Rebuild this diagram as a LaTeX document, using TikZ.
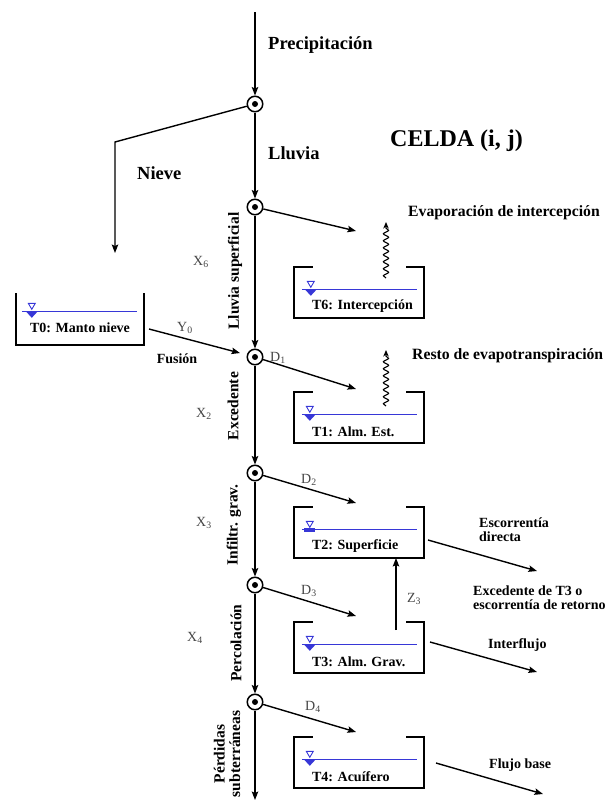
\documentclass[tikz,border=0pt]{standalone}
\usepackage{fontspec}
\setmainfont{Liberation Serif}
\usetikzlibrary{arrows.meta, decorations.pathmorphing}
\definecolor{wblue}{RGB}{55,55,215}
\definecolor{symgray}{RGB}{70,70,70}
\newcommand{\fs}[1]{\fontsize{#1}{#1}\selectfont}

% open-top tank: name, centre x, top y, label
\newcommand{\tankbox}[4]{%
  \node[tank] (#1) at (#2, #3+25.5) {};
  \draw[wall] ([xshift=18pt]#1.north west) -- (#1.north west) -- (#1.south west)
     -- (#1.south east) -- (#1.north east) -- ([xshift=-17pt]#1.north east);
  \draw[water] ([xshift=8pt,yshift=-22.5pt]#1.north west) -- ([xshift=-7pt,yshift=-22.5pt]#1.north east);
  \node[lbl, anchor=west] at ([xshift=18pt,yshift=-39.5pt]#1.north west) {#4};
}

\begin{document}
\begin{tikzpicture}[x=1pt, y=-1pt,
  flow/.style={line width=1.4pt, -{Stealth[length=8.5pt,width=6.5pt,inset=1.5pt]}},
  junc/.style={circle, draw, line width=1.5pt, minimum size=15.5pt, inner sep=0pt,
    path picture={\fill (path picture bounding box.center) circle (3pt);}},
  tank/.style={minimum width=130pt, minimum height=51pt, inner sep=0pt, draw=none},
  wall/.style={line width=2.3pt, line cap=rect},
  water/.style={wblue, line width=1.4pt},
  lbl/.style={font=\bfseries\fs{14}, inner sep=0pt},
  big/.style={font=\bfseries\fs{18.5}, inner sep=0pt, anchor=west},
  mid/.style={font=\bfseries\fs{15.7}, inner sep=0pt, anchor=west},
  var/.style={font=\fs{14}, text=symgray, inner sep=0pt},
  vert/.style={font=\bfseries\fs{15.5}, rotate=90, inner sep=0pt, align=center},
  wavy/.style={line width=1.1pt, decorate,
    decoration={snake, amplitude=2.6pt, segment length=7pt, post length=6pt},
    -{Stealth[length=6.5pt,width=5.5pt]}},
  wlevel/.pic={
    \draw[wblue, line width=0.9pt] (-3.5,-8) -- (3.5,-8) -- (0,-2) -- cycle;
    \fill[wblue] (-6,0) -- (6,0) -- (0,6.5) -- cycle;},
  wlevelbar/.pic={
    \draw[wblue, line width=0.9pt] (-3.5,-8) -- (3.5,-8) -- (0,-2) -- cycle;
    \fill[wblue] (-5.5,-1) rectangle (5.5,2.5);}
]
\useasboundingbox (0,0) rectangle (606,801);

% main column of junctions
\coordinate (top) at (255,12);
\node[junc] (c1) at (255,104) {};
\node[junc] (c2) at (255,207) {};
\node[junc] (c3) at (255,357) {};
\node[junc] (c4) at (255,473) {};
\node[junc] (c5) at (255,585) {};
\node[junc] (c6) at (255,702) {};
\coordinate (bot) at (255,800);

\draw[flow] (top) -- (c1);
\draw[flow] (c1) -- (c2);
\draw[flow] (c2) -- (c3);
\draw[flow] (c3) -- (c4);
\draw[flow] (c4) -- (c5);
\draw[flow] (c5) -- (c6);
\draw[flow] (c6) -- (bot);

% snow branch
\coordinate (nk) at (115,142);
\coordinate (ntip) at (115,253);
\draw[flow] (c1) -- (nk) -- (ntip);

% snow pack tank
\node[tank, minimum width=128pt] (t0) at (80,319.5) {};
\draw[wall] (t0.north west) -- (t0.south west) -- (t0.south east) -- (t0.north east);
\draw[water] ([xshift=6pt,yshift=-17.5pt]t0.north west) -- ([xshift=-7pt,yshift=-17.5pt]t0.north east);
\pic at ([xshift=16pt,yshift=-17.5pt]t0.north west) {wlevel};
\node[lbl] at ([yshift=-34pt]t0.north) {T0: Manto nieve};

% tanks of the cell
\tankbox{t6}{359}{267}{T6: Intercepción}
\pic at ([xshift=17pt,yshift=-22.5pt]t6.north west) {wlevel};
\tankbox{t1}{359}{392}{T1: Alm. Est.}
\pic at ([xshift=16pt,yshift=-22.5pt]t1.north west) {wlevel};
\tankbox{t2}{359}{507}{T2: Superficie}
\pic at ([xshift=16pt,yshift=-22.5pt]t2.north west) {wlevelbar};
\tankbox{t3}{359}{622}{T3: Alm. Grav.}
\pic at ([xshift=16pt,yshift=-22.5pt]t3.north west) {wlevel};
\tankbox{t4}{359}{737}{T4: Acuífero}
\pic at ([xshift=16pt,yshift=-22.5pt]t4.north west) {wlevel};

% inflows to the tanks
\coordinate (a6) at (356,231);
\coordinate (a1) at (356,389);
\coordinate (a2) at (356,503);
\coordinate (a3) at (356,616);
\coordinate (a4) at (356,732);
\draw[flow] (c2) -- (a6);
\draw[flow] (c3) -- (a1);
\draw[flow] (c4) -- (a2);
\draw[flow] (c5) -- (a3);
\draw[flow] (c6) -- (a4);

% melt
\coordinate (y0s) at (149,329);
\draw[flow, shorten >=7pt] (y0s) -- (c3);

% evaporation
\coordinate (w6s) at (386,278);
\coordinate (w6e) at (386,222);
\coordinate (w1s) at (386,406);
\coordinate (w1e) at (386,350);
\draw[wavy] (w6s) -- (w6e);
\draw[wavy] (w1s) -- (w1e);

% outflows
\coordinate (o2s) at (428,540);
\coordinate (o2e) at (537,571);
\coordinate (o3s) at (430,642);
\coordinate (o3e) at (537,672);
\coordinate (o4s) at (436,763);
\coordinate (o4e) at (543,794);
\draw[flow] (o2s) -- (o2e);
\draw[flow] (o3s) -- (o3e);
\draw[flow] (o4s) -- (o4e);

% return flow T3 -> T2
\coordinate (z3s) at (396,630);
\coordinate (z3e) at (396,558);
\draw[flow] (z3s) -- (z3e);

% texts
\node[big] (tp) at (268,45) {Precipitación};
\node[big] (tl) at (268,153) {Lluvia};
\node[big] (tn) at (137,173) {Nieve};
\node[font=\bfseries\fs{24}, inner sep=0pt, anchor=west] (tc) at (390,141) {CELDA (i, j)};
\node[mid] (te) at (408,213) {Evaporación de intercepción};
\node[mid] (tr) at (412,356) {Resto de evapotranspiración};
\node[lbl] (tf) at (177,359) {Fusión};
\node[font=\bfseries\fs{14}, inner sep=0pt, anchor=west, align=left] (ted) at (479,529.5)
  {\fontsize{14}{16}\selectfont Escorrentía\\directa};
\node[font=\bfseries\fs{14}, inner sep=0pt, anchor=west, align=left] (tx) at (473,598)
  {\fontsize{14}{16}\selectfont Excedente de T3 o\\escorrentía de retorno};
\node[lbl, anchor=west] (ti) at (488,645) {Interflujo};
\node[lbl, anchor=west] (tb) at (489,765) {Flujo base};

\node[vert] (vl) at (235,271) {Lluvia superficial};
\node[vert] (vx) at (233,406) {Excedente};
\node[vert] (vi) at (234,525) {Infiltr. grav.};
\node[vert] (vp) at (236,643) {Percolación};
\node[vert] (vs) at (227,754) {\fontsize{15.5}{18}\selectfont Pérdidas\\subterráneas};

% flow variables
\node[var] (x6) at (201,262) {X\textsubscript{6}};
\node[var] (x2) at (204,414) {X\textsubscript{2}};
\node[var] (x3) at (204,523) {X\textsubscript{3}};
\node[var] (x4) at (195,638) {X\textsubscript{4}};
\node[var] (yy) at (185,328) {Y\textsubscript{0}};
\node[var] (d1) at (278,358) {D\textsubscript{1}};
\node[var] (d2) at (309,480) {D\textsubscript{2}};
\node[var] (d3) at (309,591) {D\textsubscript{3}};
\node[var] (d4) at (313,707) {D\textsubscript{4}};
\node[var] (z3) at (414,599) {Z\textsubscript{3}};
\end{tikzpicture}
\end{document}
